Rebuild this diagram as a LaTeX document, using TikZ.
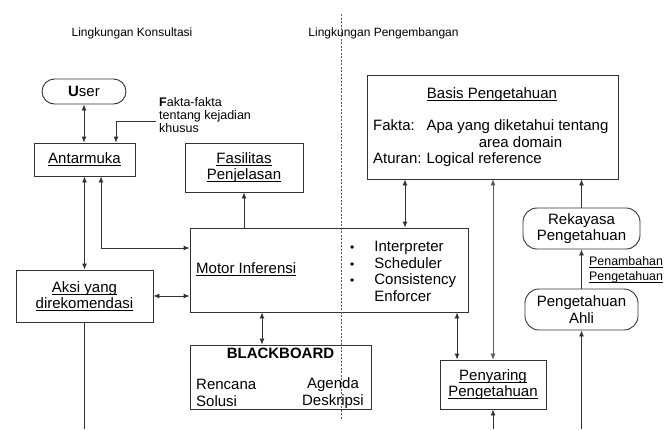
\documentclass[tikz,border=0pt]{standalone}
\usepackage{fontspec}
\setmainfont{Liberation Sans}
\usetikzlibrary{arrows.meta,calc}
\definecolor{linec}{HTML}{333333}
\newcommand\bodyfnt{\fontsize{15}{16.5}\selectfont}
\newcommand\hdfnt{\fontsize{12}{14}\selectfont}
\newcommand\fkfnt{\fontsize{12.5}{13}\selectfont}
\newcommand\smfnt{\fontsize{12.4}{15}\selectfont}
\newcommand\ulx[1]{\leavevmode\setbox0\hbox{#1}\rlap{\rule[-2.2pt]{\wd0}{0.7pt}}\box0}
\begin{document}
\begin{tikzpicture}[x=1pt,y=-1pt,
  every node/.style={inner sep=0pt, text=black},
  box/.style={draw=linec, line width=0.9pt, inner sep=0pt, align=center, font=\bodyfnt},
  conn/.style={draw=linec, line width=0.9pt},
  arr/.style={conn, -{Latex[length=6pt,width=5pt]}},
  darr/.style={conn, {Latex[length=6pt,width=5pt]}-{Latex[length=6pt,width=5pt]}},
  thinarr/.style={draw=linec!80, line width=0.5pt, {Latex[length=6pt,width=5pt]}-{Latex[length=6pt,width=5pt]}},
  divider/.style={draw=linec!80, line width=0.7pt, dash pattern=on 2pt off 1.5pt},
  txt/.style={font=\bodyfnt}
]
\useasboundingbox (0,0) rectangle (664,429);

% headers
\node[font=\hdfnt] (h1) at (132,33) {Lingkungan Konsultasi};
\node[font=\hdfnt] (h2) at (383.5,33) {Lingkungan Pengembangan};

% boxes
\node[box, minimum width=84pt, minimum height=25pt, rounded corners=12.5pt] (user) at (84,91.5) {\textbf{U}ser};
\node[box, minimum width=101pt, minimum height=33pt] (antar) at (84.5,159.5) {\ulx{Antarmuka}};
\node[box, minimum width=118pt, minimum height=49pt] (fasil) at (244,167.5) {\ulx{Fasilitas}\\\ulx{Penjelasan}};
\node[box, minimum width=137pt, minimum height=52pt] (aksi) at (84.5,296) {\ulx{Aksi yang}\\\ulx{direkomendasi}};
\node[box, minimum width=278pt, minimum height=84pt] (motor) at (329,270) {};
\node[box, minimum width=181pt, minimum height=64pt] (bb) at (280.5,377) {};
\node[box, minimum width=251pt, minimum height=104pt] (basis) at (492.5,127) {};
\node[box, minimum width=106pt, minimum height=49pt] (penyar) at (493,384.5) {\ulx{Penyaring}\\\ulx{Pengetahuan}};
\node[box, rounded corners=14pt, minimum width=117pt, minimum height=41pt] (rekay) at (581.5,228.5) {Rekayasa\\Pengetahuan};
\node[box, rounded corners=14pt, minimum width=113pt, minimum height=41pt] (ahli) at (581.5,309.5) {Pengetahuan\\Ahli};

% texts
\node[font=\fkfnt, align=left, anchor=west] (fakta) at (159,115) {\textbf{F}akta-fakta\\tentang kejadian\\khusus};
\node[txt, anchor=west] (motlab) at (196,269) {\ulx{Motor Inferensi}};
\node[txt, anchor=west] (mlist) at (350,273) {\begin{tabular}{@{}l@{\hspace{20pt}}l@{}}{\fontsize{12}{12}\selectfont\textbullet} & Interpreter\\ {\fontsize{12}{12}\selectfont\textbullet} & Scheduler\\ {\fontsize{12}{12}\selectfont\textbullet} & Consistency\\ & Enforcer\end{tabular}};
\node[font=\bodyfnt\bfseries] (bbt) at (280.5,353) {BLACKBOARD};
\node[txt, align=left, anchor=west] (renc) at (196,393) {Rencana\\Solusi};
\node[txt, align=center] (agen) at (333,393) {Agenda\\Deskripsi};
\node[txt] (btitle) at (492,95) {\ulx{Basis Pengetahuan}};
\node[txt, anchor=west] (btxt) at (373,144) {\begin{tabular}{@{}l@{\hspace{5pt}}l@{}}Fakta: & Apa yang diketahui tentang\\ & \multicolumn{1}{c@{}}{area domain}\\ Aturan: & Logical reference\end{tabular}};
\node[font=\smfnt, align=left, anchor=west] (penam) at (589,269.5) {\ulx{Penambahan}\\\ulx{Pengetahuan}};

% divider
\coordinate (dtop) at (341,14);
\coordinate (dbot) at (341,420);
\draw[divider] (dtop) -- (dbot);

% connectors
\coordinate (fk) at (156,121);
\draw[darr] (user.south) -- (user.south |- antar.north);
\draw[arr] (fk) -| ([xshift=31.5pt]antar.north);
\draw[darr] (antar.south) -- (aksi.north);
\draw[darr] ([xshift=16.5pt]antar.south) |- ([yshift=22pt]motor.west);
\draw[darr] (aksi.east) -- (aksi.east -| motor.west);
\coordinate (b1) at (84.5,429);
\draw[conn] (aksi.south) -- (b1);
\draw[arr] (motor.north -| fasil.south) -- (fasil.south);
\draw[darr] ([xshift=-67pt]motor.south) -- ([xshift=-67pt]motor.south |- bb.north);
\draw[darr] ([xshift=-87.5pt]basis.south) -- ([xshift=-87.5pt]basis.south |- motor.north);
\draw[thinarr] (penyar.north |- basis.south) -- (penyar.north);
\draw[darr] ([xshift=128pt]motor.south) -- ([xshift=128pt]motor.south |- penyar.north);
\coordinate (b2) at (493,429);
\draw[arr] (b2) -- (penyar.south);
\coordinate (b3) at (581.5,429);
\draw[arr] (b3) -- (ahli.south);
\draw[arr] (ahli.north) -- (rekay.south);
\draw[arr] (rekay.north) -- (rekay.north |- basis.south);
\end{tikzpicture}
\end{document}
